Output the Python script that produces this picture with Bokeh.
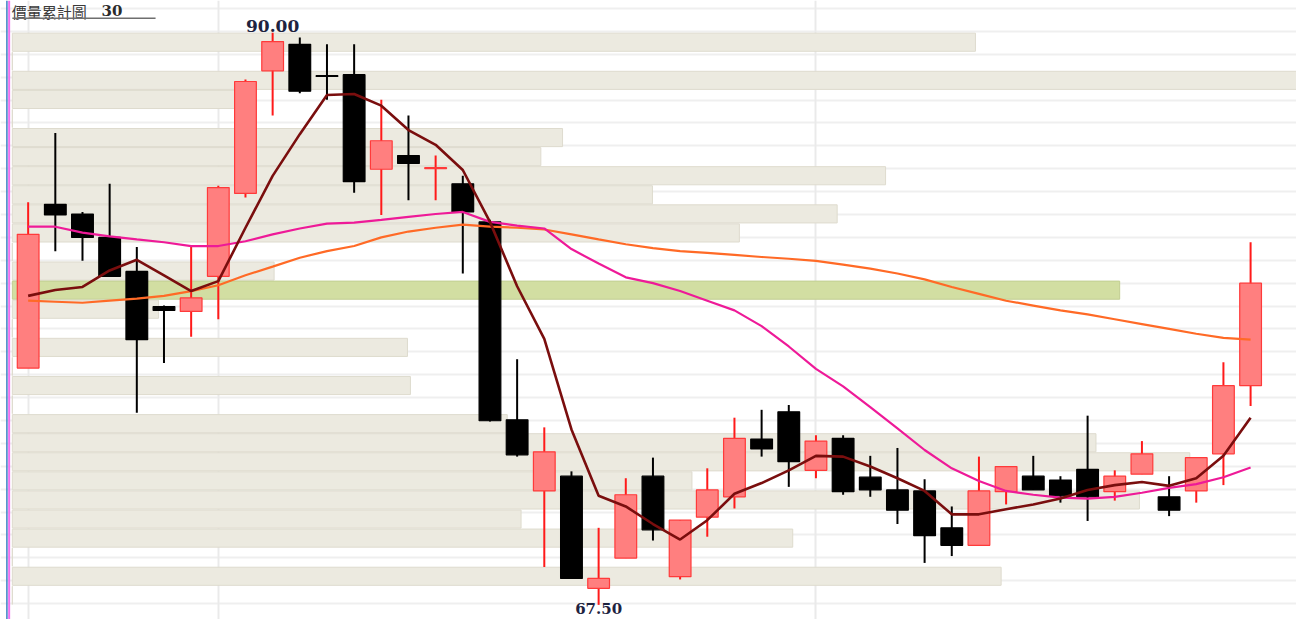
from bokeh.plotting import figure
from bokeh.models import Range1d, FixedTicker, Grid, Span, Label, ColumnDataSource, BoxAnnotation
from bokeh.core.properties import value
from bokeh.embed import file_html
from bokeh.resources import INLINE

# ---------------- data ----------------
opens = [76.81, 83.25, 82.87, 81.95, 80.61, 79.23, 79.04, 80.42, 83.68, 88.50,
         89.54, 88.31, 88.35, 84.63, 85.17, 84.65, 84.06, 82.56, 74.78, 71.98,
         72.56, 68.15, 69.34, 72.56, 68.61, 70.95, 71.75, 74.02, 75.09, 72.79,
         74.05, 72.52, 72.02, 71.98, 70.53, 69.84, 71.95, 72.56, 72.41, 72.83,
         71.95, 72.64, 71.75, 71.98, 73.44, 76.12]
highs = [83.33, 86.05, 82.95, 84.06, 81.57, 79.27, 81.61, 83.98, 88.16, 90.00,
         89.81, 89.54, 89.54, 87.36, 86.74, 85.17, 84.37, 82.64, 77.16, 74.48,
         72.75, 70.53, 72.48, 73.29, 70.83, 72.87, 74.86, 75.17, 75.36, 74.17,
         74.17, 73.36, 73.67, 72.44, 71.37, 73.33, 72.94, 73.36, 72.56, 74.94,
         72.79, 73.94, 72.56, 73.29, 77.04, 81.76]
lows = [76.81, 81.41, 81.03, 80.42, 75.05, 77.01, 78.04, 78.73, 83.52, 86.74,
        87.62, 87.36, 83.71, 82.83, 83.41, 83.41, 80.53, 74.71, 73.33, 68.99,
        68.54, 67.50, 69.34, 70.03, 68.50, 70.18, 71.29, 73.33, 72.14, 72.48,
        71.83, 71.75, 70.68, 69.15, 69.42, 69.84, 71.45, 72.02, 71.52, 70.80,
        71.60, 72.64, 70.99, 71.52, 72.21, 75.32]
closes = [82.07, 82.83, 81.95, 80.42, 77.93, 79.08, 79.57, 83.91, 88.08, 89.65,
          87.70, 88.28, 84.14, 85.75, 84.86, 84.69, 82.95, 74.74, 73.40, 73.52,
          68.54, 68.54, 71.83, 70.45, 70.83, 72.02, 74.05, 73.63, 73.13, 73.94,
          71.95, 72.02, 71.22, 70.22, 69.84, 71.98, 72.94, 72.02, 71.79, 71.75,
          72.56, 73.44, 71.22, 73.29, 76.12, 80.15]

ma5 = [79.65, 79.88, 80.00, 80.65, 81.07, 80.46, 79.84, 80.23, 82.33, 84.37,
       86.01, 87.55, 87.59, 87.13, 86.17, 85.59, 84.60, 82.56, 80.03, 77.96,
       74.40, 71.79, 71.37, 70.68, 70.07, 70.83, 71.87, 72.29, 72.79, 73.36,
       73.33, 72.94, 72.48, 71.98, 71.06, 71.06, 71.26, 71.45, 71.68, 72.02,
       72.21, 72.33, 72.18, 72.48, 73.36, 74.86]
ma20 = [82.37, 82.37, 82.14, 81.99, 81.87, 81.76, 81.61, 81.61, 81.80, 82.07,
        82.30, 82.49, 82.53, 82.64, 82.76, 82.87, 82.95, 82.56, 82.41, 82.30,
        81.49, 80.92, 80.38, 80.15, 79.84, 79.46, 79.08, 78.46, 77.66, 76.78,
        76.09, 75.28, 74.44, 73.59, 72.87, 72.37, 71.98, 71.83, 71.72, 71.68,
        71.75, 71.91, 72.10, 72.25, 72.52, 72.90]
ma60 = [79.46, 79.42, 79.38, 79.46, 79.54, 79.65, 79.84, 80.07, 80.46, 80.80,
        81.15, 81.41, 81.61, 81.95, 82.18, 82.33, 82.45, 82.37, 82.33, 82.26,
        82.07, 81.87, 81.68, 81.53, 81.41, 81.34, 81.26, 81.18, 81.11, 81.03,
        80.88, 80.72, 80.53, 80.30, 80.00, 79.73, 79.46, 79.27, 79.08, 78.92,
        78.73, 78.54, 78.35, 78.16, 78.00, 77.93]

# accumulated volume per price bin, top bin first (30 bins)
bin_count = 30
profile_volume = [975, 0, 1300, 228, 0, 557, 535, 884, 648, 835,
                  736, 0, 265, 1121, 148, 0, 400, 0, 403, 0,
                  501, 1097, 1192, 688, 1141, 515, 790, 0, 1001, 0]

month_start_index = [0, 7, 29]
title_main = "價量累計圖"
title_num = "30"

# ---------------- figure ----------------
n = len(closes)
idx = list(range(n))
top_price = max(highs)
bottom_price = min(lows)

p = figure(width=1296, height=619, output_backend="svg", toolbar_location=None,
           x_range=Range1d(-1.018, 46.69), y_range=Range1d(66.925, 91.265),
           x_axis_location=None, y_axis_location=None, min_border=0,
           outline_line_color=None, background_fill_color="white",
           border_fill_color="white")
p.grid.visible = False
p.extra_x_ranges = {"vol": Range1d(-12, 1300)}

grid_levels = [90.95 - 0.9 * k for k in range(27)]
p.add_layout(Grid(dimension=1, ticker=FixedTicker(ticks=grid_levels),
                  grid_line_color="#EFEFEF", grid_line_width=2))
p.add_layout(Grid(dimension=0, ticker=FixedTicker(ticks=month_start_index),
                  grid_line_color="#EAEAEA", grid_line_width=2))

# volume profile
step = (top_price - bottom_price) / bin_count
centers = [top_price - step * (k + 0.5) for k in range(bin_count)]
cur_bin = int((top_price - closes[-1]) / step)
fills = ["#D2DEA2" if k == cur_bin else "#ECEAE0" for k in range(bin_count)]
lines = ["#C2CE92" if k == cur_bin else "#DEDBCE" for k in range(bin_count)]
p.hbar(y=centers, height=step * 0.95, left=0, right=profile_volume,
       x_range_name="vol", fill_color=fills, line_color=lines, line_width=1)

# candles
up = [c >= o for o, c in zip(opens, closes)]
src = ColumnDataSource(dict(
    x=idx, high=highs, low=lows,
    top=[max(o, c) for o, c in zip(opens, closes)],
    bottom=[min(o, c) for o, c in zip(opens, closes)],
    wick=["#FF1A1A" if u else "#000000" for u in up],
    fill=["#FF7F7F" if u else "#000000" for u in up],
    edge=["#FF3A3A" if u else "#000000" for u in up],
))
p.segment(x0="x", y0="high", x1="x", y1="low", line_color="wick", line_width=2, source=src)
p.vbar(x="x", width=0.8, top="top", bottom="bottom", fill_color="fill",
       line_color="edge", line_width=1.2, source=src)

# moving averages
p.line(idx, ma60, line_color="#FF6A26", line_width=2.2)
p.line(idx, ma20, line_color="#EE1A98", line_width=2.2)
p.line(idx, ma5, line_color="#7A0E0E", line_width=2.6)

# high / low labels
ih = highs.index(top_price)
il = lows.index(bottom_price)
p.text(x=[ih], y=[top_price], text=[f"{top_price:.2f}"], text_align="center",
       text_baseline="bottom", y_offset=-1, text_font=value("DejaVu Serif"),
       text_font_style="bold", text_font_size="17px", text_color="#1E2340")
p.text(x=[il], y=[bottom_price], text=[f"{bottom_price:.2f}"], text_align="center",
       text_baseline="top", y_offset=-2, text_font=value("DejaVu Serif"),
       text_font_style="bold", text_font_size="15px", text_color="#1E2340")

# title
p.add_layout(Label(x=-0.60, y=91.24, text=title_main, text_font="Noto Sans CJK TC",
                   text_font_size="15px", text_color="#3A3A3A", text_baseline="top"))
p.add_layout(Label(x=2.70, y=91.10, text=title_num, text_font="DejaVu Serif",
                   text_font_style="bold", text_font_size="15px", text_color="#2A2A2A",
                   text_baseline="top"))
p.add_layout(BoxAnnotation(left=-0.582, right=4.69, bottom=90.537, top=90.594,
                           fill_color="#6E6E6E", fill_alpha=1, line_color=None))

# left edge lines
p.add_layout(Span(location=-0.782, dimension="height", line_color="#3B7FC4", line_width=1.5))
p.add_layout(Span(location=-0.70, dimension="height", line_color="#F070F0", line_width=2))

open("out.html", "w").write(file_html(p, INLINE))
